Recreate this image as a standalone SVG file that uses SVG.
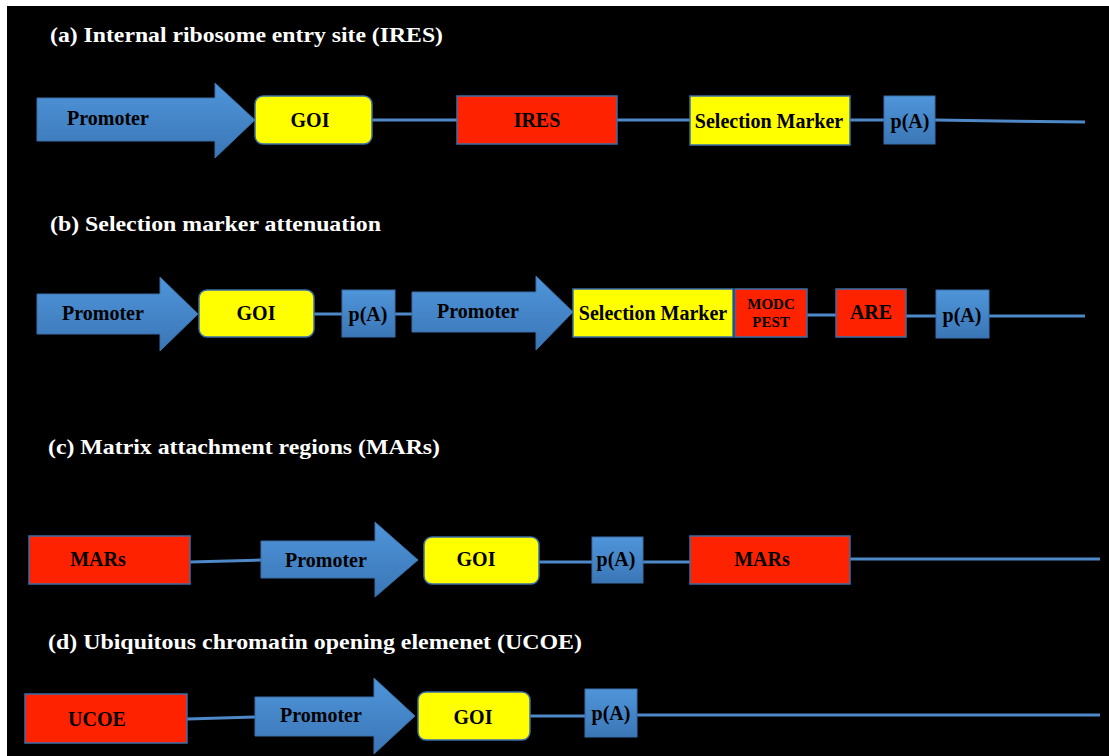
<svg xmlns="http://www.w3.org/2000/svg" width="1109" height="756" viewBox="0 0 1109 756">
<defs>
<linearGradient id="blueG" x1="0" y1="0" x2="0" y2="1">
<stop offset="0" stop-color="#4f95da"/>
<stop offset="1" stop-color="#3a76b6"/>
</linearGradient>
<style>
.title{font-family:"Liberation Serif","Times New Roman",serif;font-weight:bold;font-size:22px;fill:#ffffff}
.lbl{font-family:"Liberation Serif","Times New Roman",serif;font-weight:bold;font-size:20px;fill:#000000}
.sm{font-family:"Liberation Serif","Times New Roman",serif;font-weight:bold;font-size:15px;fill:#000000}
.arrow{fill:url(#blueG);stroke:#3a6fa8;stroke-width:1}
.pa{fill:url(#blueG);stroke:#3a6fa8;stroke-width:1}
.goi{fill:#ffff00;stroke:#3a6fa8;stroke-width:1.5}
.sel{fill:#ffff00;stroke:#3a6fa8;stroke-width:1.5}
.red{fill:#ff2200;stroke:#3a6fa8;stroke-width:1.5}
.conn line, .conn polyline{stroke:#4f88c6;stroke-width:3;fill:none}
</style>
</defs>
<rect x="0" y="0" width="1109" height="756" fill="#ffffff"/>
<rect x="7" y="6" width="1102" height="750" fill="#000000"/>

<g id="titles">
<text class="title" x="50" y="42" textLength="393" lengthAdjust="spacingAndGlyphs">(a) Internal ribosome entry site (IRES)</text>
<text class="title" x="50" y="231" textLength="331" lengthAdjust="spacingAndGlyphs">(b) Selection marker attenuation</text>
<text class="title" x="48" y="454" textLength="392" lengthAdjust="spacingAndGlyphs">(c) Matrix attachment regions (MARs)</text>
<text class="title" x="48" y="649" textLength="534" lengthAdjust="spacingAndGlyphs">(d) Ubiquitous chromatin opening elemenet (UCOE)</text>
</g>

<g class="conn" id="connectors">
<line x1="372" y1="120" x2="457" y2="120"/>
<line x1="617" y1="120" x2="690" y2="120"/>
<line x1="850" y1="120" x2="884" y2="120"/>
<polyline points="935,120 1000,121 1085,122"/>

<line x1="314" y1="314" x2="342" y2="314"/>
<line x1="395" y1="314" x2="412" y2="314"/>
<line x1="807" y1="315" x2="836" y2="315"/>
<line x1="906" y1="316" x2="936" y2="316"/>
<line x1="989" y1="316" x2="1085" y2="316"/>

<line x1="190" y1="562" x2="261" y2="560"/>
<line x1="539" y1="562" x2="592" y2="562"/>
<line x1="643" y1="562" x2="690" y2="562"/>
<line x1="850" y1="559" x2="1100" y2="559"/>

<line x1="187" y1="719" x2="255" y2="717"/>
<line x1="530" y1="716" x2="585" y2="716"/>
<line x1="637" y1="715" x2="1100" y2="715"/>
</g>

<!-- Row a -->
<g id="a-promoter">
<path class="arrow" d="M37,98 H215 V83 L255,120 L215,158 V141 H37 Z"/>
<text class="lbl" x="67" y="125">Promoter</text>
</g>
<g id="a-goi">
<rect class="goi" x="255" y="96" width="117" height="48" rx="8"/>
<text class="lbl" x="310" y="127" text-anchor="middle">GOI</text>
</g>
<g id="a-ires">
<rect class="red" x="457" y="96" width="160" height="48"/>
<text class="lbl" x="537" y="127" text-anchor="middle">IRES</text>
</g>
<g id="a-sel">
<rect class="sel" x="690" y="96" width="160" height="49"/>
<text class="lbl" x="769" y="128" text-anchor="middle">Selection Marker</text>
</g>
<g id="a-pa">
<rect class="pa" x="884" y="96" width="51" height="48"/>
<text class="lbl" x="910" y="128" text-anchor="middle">p(A)</text>
</g>

<!-- Row b -->
<g id="b-promoter1">
<path class="arrow" d="M37,294 H160 V277 L198,314 L160,351 V334 H37 Z"/>
<text class="lbl" x="62" y="320">Promoter</text>
</g>
<g id="b-goi">
<rect class="goi" x="199" y="290" width="115" height="47" rx="8"/>
<text class="lbl" x="256" y="320" text-anchor="middle">GOI</text>
</g>
<g id="b-pa1">
<rect class="pa" x="342" y="290" width="53" height="47"/>
<text class="lbl" x="368" y="321" text-anchor="middle">p(A)</text>
</g>
<g id="b-promoter2">
<path class="arrow" d="M412,292 H536 V276 L573,312 L536,350 V332 H412 Z"/>
<text class="lbl" x="437" y="318">Promoter</text>
</g>
<g id="b-sel">
<rect class="sel" x="573" y="289" width="160" height="48"/>
<text class="lbl" x="653" y="320" text-anchor="middle">Selection Marker</text>
</g>
<g id="b-modc">
<rect class="red" x="735" y="289" width="72" height="48"/>
<text class="sm" x="771" y="309" text-anchor="middle">MODC</text>
<text class="sm" x="771" y="327" text-anchor="middle">PEST</text>
</g>
<g id="b-are">
<rect class="red" x="836" y="289" width="70" height="48"/>
<text class="lbl" x="871" y="319" text-anchor="middle">ARE</text>
</g>
<g id="b-pa2">
<rect class="pa" x="936" y="290" width="53" height="48"/>
<text class="lbl" x="962" y="322" text-anchor="middle">p(A)</text>
</g>

<!-- Row c -->
<g id="c-mars1">
<rect class="red" x="29" y="536" width="161" height="48"/>
<text class="lbl" x="98" y="566" text-anchor="middle">MARs</text>
</g>
<g id="c-promoter">
<path class="arrow" d="M261,541 H375 V522 L418,560 L375,597 V578 H261 Z"/>
<text class="lbl" x="285" y="567">Promoter</text>
</g>
<g id="c-goi">
<rect class="goi" x="424" y="537" width="115" height="47" rx="8"/>
<text class="lbl" x="476" y="566" text-anchor="middle">GOI</text>
</g>
<g id="c-pa">
<rect class="pa" x="592" y="537" width="51" height="46"/>
<text class="lbl" x="616" y="566" text-anchor="middle">p(A)</text>
</g>
<g id="c-mars2">
<rect class="red" x="690" y="536" width="160" height="48"/>
<text class="lbl" x="762" y="566" text-anchor="middle">MARs</text>
</g>

<!-- Row d -->
<g id="d-ucoe">
<rect class="red" x="25" y="694" width="162" height="49"/>
<text class="lbl" x="97" y="726" text-anchor="middle">UCOE</text>
</g>
<g id="d-promoter">
<path class="arrow" d="M255,697 H374 V678 L415,716 L374,754 V736 H255 Z"/>
<text class="lbl" x="280" y="722">Promoter</text>
</g>
<g id="d-goi">
<rect class="goi" x="418" y="692" width="112" height="48" rx="8"/>
<text class="lbl" x="473" y="724" text-anchor="middle">GOI</text>
</g>
<g id="d-pa">
<rect class="pa" x="585" y="689" width="52" height="48"/>
<text class="lbl" x="611" y="720" text-anchor="middle">p(A)</text>
</g>
</svg>
